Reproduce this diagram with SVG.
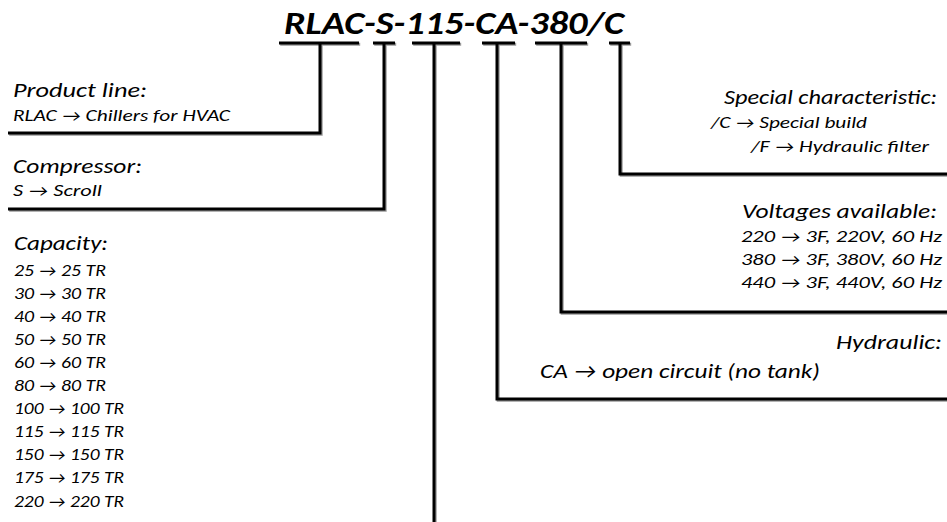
<svg xmlns="http://www.w3.org/2000/svg" width="947" height="522" viewBox="0 0 947 522">
<style>
text{font-family:Carlito,"Open Sans","Liberation Sans",sans-serif;font-style:italic;fill:#000}
.t{font-size:33px;font-weight:bold}
.h{font-size:21px}
.s{font-size:16px}
.c{fill:none;stroke:#000;stroke-width:3}
.sh{stroke:#9a9a9a}
</style>
<defs>
<g id="lines">
<path d="M279 43H359M373 43H395M412 43H460M482 43H515M535 43H587M609 43H630"/>
<path d="M320 43V133H8"/>
<path d="M384 43V209H8"/>
<path d="M434 43V522"/>
<path d="M497 43V399H947"/>
<path d="M561 43V312H947"/>
<path d="M620 43V174H947"/>
</g>
</defs>
<rect width="947" height="522" fill="#fff"/>
<g id="title"><text class="t" x="284" y="34" textLength="340" lengthAdjust="spacingAndGlyphs">RLAC-S-115-CA-380/C</text></g>
<g id="connectors">
<use href="#lines" class="c sh" transform="translate(1.2,1.2)"/>
<use href="#lines" class="c"/>
</g>
<g id="product-line">
<text class="h" x="13" y="97" textLength="134" lengthAdjust="spacingAndGlyphs">Product line:</text>
<text class="s" x="13" y="121" textLength="217" lengthAdjust="spacingAndGlyphs">RLAC → Chillers for HVAC</text>
</g>
<g id="compressor">
<text class="h" x="13" y="173" textLength="129" lengthAdjust="spacingAndGlyphs">Compressor:</text>
<text class="s" x="13" y="196" textLength="89" lengthAdjust="spacingAndGlyphs">S → Scroll</text>
</g>
<g id="capacity">
<text class="h" x="14" y="250" textLength="94" lengthAdjust="spacingAndGlyphs">Capacity:</text>
<text class="s" x="14" y="276" textLength="92" lengthAdjust="spacingAndGlyphs">25 → 25 TR</text>
<text class="s" x="14" y="299" textLength="92" lengthAdjust="spacingAndGlyphs">30 → 30 TR</text>
<text class="s" x="14" y="322" textLength="92" lengthAdjust="spacingAndGlyphs">40 → 40 TR</text>
<text class="s" x="14" y="345" textLength="92" lengthAdjust="spacingAndGlyphs">50 → 50 TR</text>
<text class="s" x="14" y="368" textLength="92" lengthAdjust="spacingAndGlyphs">60 → 60 TR</text>
<text class="s" x="14" y="391" textLength="92" lengthAdjust="spacingAndGlyphs">80 → 80 TR</text>
<text class="s" x="14" y="414" textLength="110" lengthAdjust="spacingAndGlyphs">100 → 100 TR</text>
<text class="s" x="14" y="437" textLength="110" lengthAdjust="spacingAndGlyphs">115 → 115 TR</text>
<text class="s" x="14" y="460" textLength="110" lengthAdjust="spacingAndGlyphs">150 → 150 TR</text>
<text class="s" x="14" y="483" textLength="110" lengthAdjust="spacingAndGlyphs">175 → 175 TR</text>
<text class="s" x="14" y="507" textLength="110" lengthAdjust="spacingAndGlyphs">220 → 220 TR</text>
</g>
<g id="special">
<text class="h" x="724" y="104" textLength="213" lengthAdjust="spacingAndGlyphs">Special characteristic:</text>
<text class="s" x="711" y="128" textLength="156" lengthAdjust="spacingAndGlyphs">/C → Special build</text>
<text class="s" x="751" y="152" textLength="178" lengthAdjust="spacingAndGlyphs">/F → Hydraulic filter</text>
</g>
<g id="voltages">
<text class="h" x="742" y="218" textLength="195" lengthAdjust="spacingAndGlyphs">Voltages available:</text>
<text class="s" x="741" y="242" textLength="201" lengthAdjust="spacingAndGlyphs">220 → 3F, 220V, 60 Hz</text>
<text class="s" x="741" y="265" textLength="201" lengthAdjust="spacingAndGlyphs">380 → 3F, 380V, 60 Hz</text>
<text class="s" x="741" y="288" textLength="201" lengthAdjust="spacingAndGlyphs">440 → 3F, 440V, 60 Hz</text>
</g>
<g id="hydraulic">
<text class="h" x="836" y="349" textLength="106" lengthAdjust="spacingAndGlyphs">Hydraulic:</text>
<text class="h" x="540" y="378" textLength="280" lengthAdjust="spacingAndGlyphs">CA → open circuit (no tank)</text>
</g>
</svg>
